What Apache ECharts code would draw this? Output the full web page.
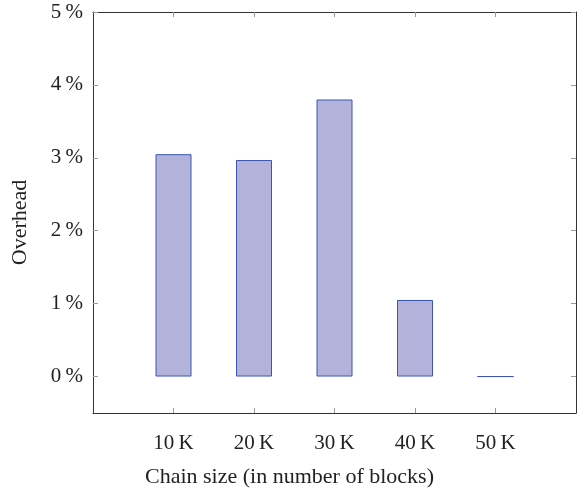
<!DOCTYPE html>
<html>
<head>
<meta charset="utf-8">
<script src="https://cdn.jsdelivr.net/npm/echarts@6/dist/echarts.min.js"></script>
<style>
  html, body { margin: 0; padding: 0; background: #fff; }
  #chart { width: 580px; height: 494px; }
</style>
</head>
<body>
<div id="chart"></div>
<script>
// chain sizes (thousands of blocks) and overhead (%)
var chainSizes = [10, 20, 30, 40, 50];
var overhead = [3.05, 2.97, 3.8, 1.05, 0];
var xTicks = [10, 20, 30, 40, 50];
var yTicks = [0, 1, 2, 3, 4, 5];

var myChart = echarts.init(document.getElementById('chart'));

var font = '"Liberation Serif", "DejaVu Serif", serif';
var frame = { show: true, onZero: false, lineStyle: { color: '#333', width: 1 } };
var tick = { show: true, inside: true, length: 5, lineStyle: { color: '#999' } };

var option = {
  animation: false,
  grid: { left: 93, right: 4, top: 12, bottom: 81 },
  xAxis: [
    {
      type: 'value', min: 0, max: 60,
      name: 'Chain size (in number of blocks)',
      nameLocation: 'middle', nameGap: 53,
      // label sits left of the plot centre in the original
      nameTextStyle: { fontFamily: font, fontSize: 22, color: '#222', padding: [0, 90, 0, 0] },
      axisLine: frame,
      axisTick: Object.assign({ customValues: xTicks }, tick),
      axisLabel: {
        customValues: xTicks, margin: 20,
        fontFamily: font, fontSize: 21, color: '#222',
        formatter: function (v) { return v + '\u2009K'; }
      },
      splitLine: { show: false }
    },
    {
      type: 'value', min: 0, max: 60, position: 'top',
      axisLine: frame,
      axisTick: Object.assign({ customValues: xTicks }, tick),
      axisLabel: { show: false },
      splitLine: { show: false }
    }
  ],
  yAxis: [
    {
      type: 'value', min: -0.5, max: 5,
      name: 'Overhead',
      nameLocation: 'middle', nameGap: 62,
      nameTextStyle: { fontFamily: font, fontSize: 22, color: '#222', padding: [0, 20, 0, 0] },
      axisLine: frame,
      axisTick: Object.assign({ customValues: yTicks }, tick),
      axisLabel: {
        customValues: yTicks, margin: 10,
        fontFamily: font, fontSize: 21, color: '#222',
        formatter: function (v) { return v + '\u2009%'; }
      },
      splitLine: { show: false }
    },
    {
      type: 'value', min: -0.5, max: 5, position: 'right',
      axisLine: frame,
      axisTick: Object.assign({ customValues: yTicks }, tick),
      axisLabel: { show: false },
      splitLine: { show: false }
    }
  ],
  series: [
    {
      type: 'bar',
      xAxisIndex: 0, yAxisIndex: 0,
      barWidth: 36,
      data: chainSizes.map(function (c, i) { return [c, overhead[i]]; }),
      itemStyle: { color: '#b2b2da', borderColor: '#3b55b5', borderWidth: 1 }
    }
  ]
};

myChart.setOption(option);
</script>
</body>
</html>
